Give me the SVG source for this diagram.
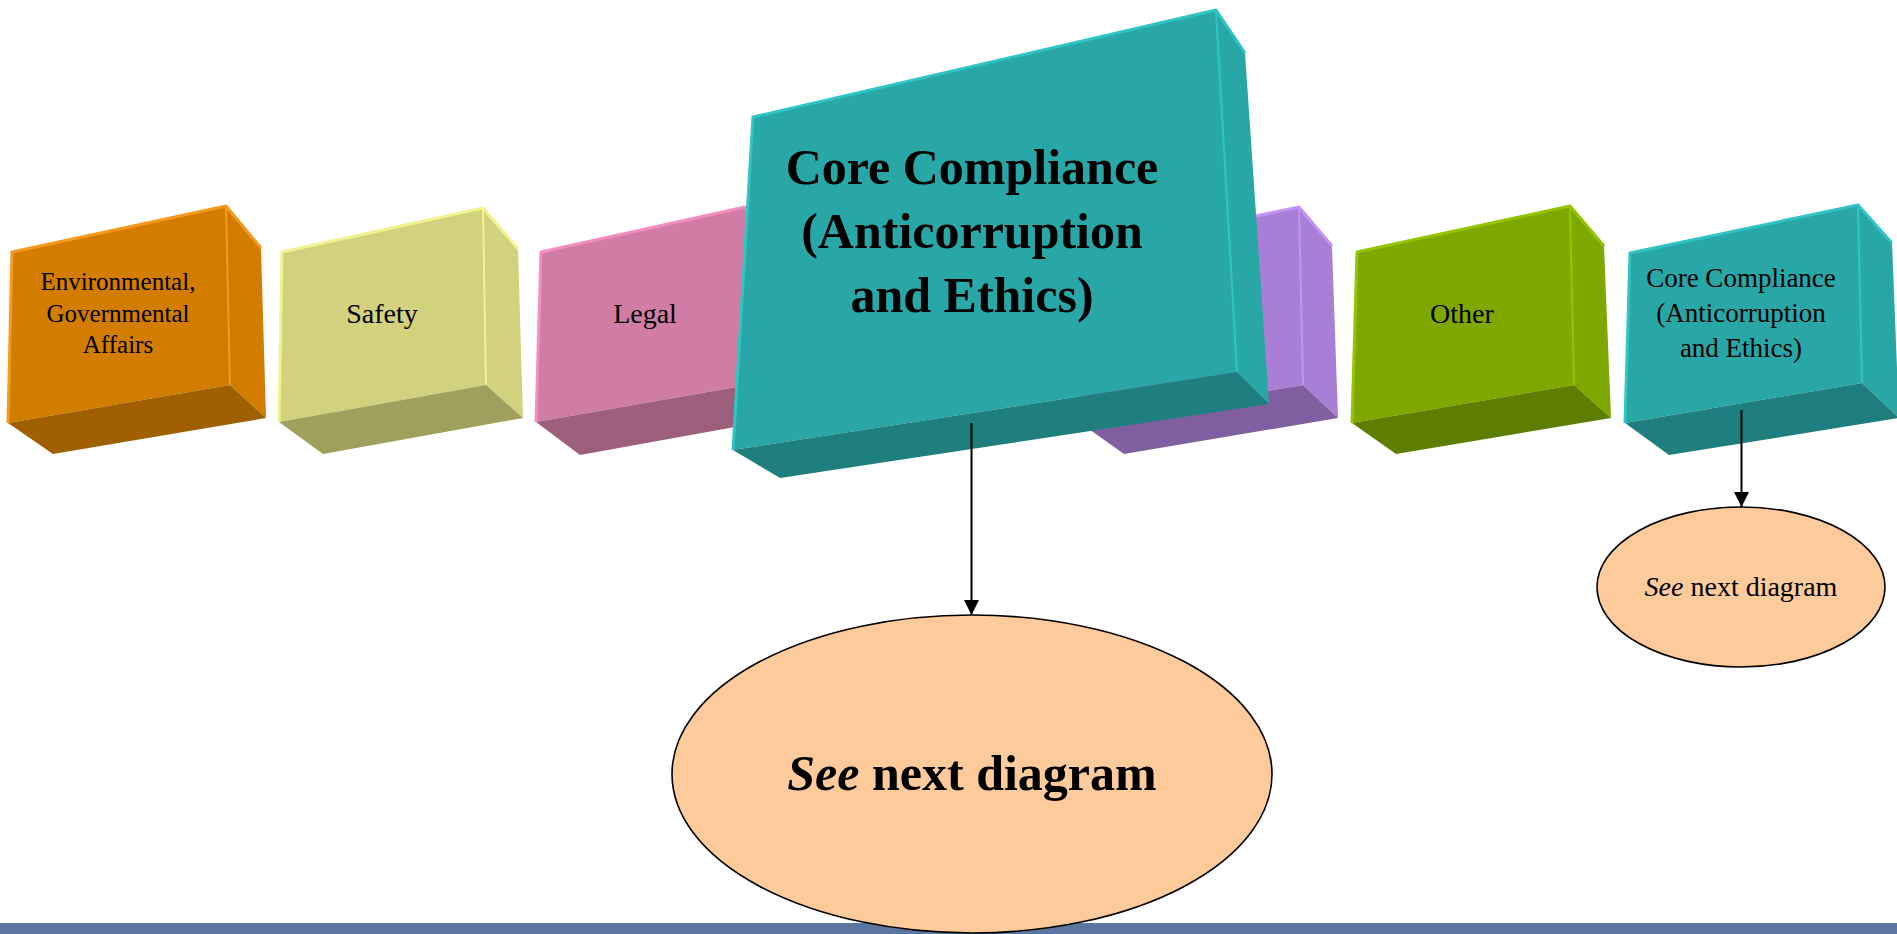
<svg xmlns="http://www.w3.org/2000/svg" width="1897" height="934" viewBox="0 0 1897 934">
<defs>
<style>
.lbl{font-family:"Liberation Serif","Times New Roman",serif;fill:#000;text-anchor:middle}
.hl{fill:none;stroke-width:3;stroke-linejoin:round}
.seam{fill:none;stroke-width:2}
.or .f,.or .r{fill:#d37d00}.or .b{fill:#a06000}.or .hl,.or .seam{stroke:#f59a1f}
.sa .f,.sa .r{fill:#d1d17e}.sa .b{fill:#9f9f5e}.sa .hl,.sa .seam{stroke:#f2f28f}
.le .f,.le .r{fill:#d17ca4}.le .b{fill:#9e5f7c}.le .hl,.le .seam{stroke:#f48dc2}
.pu .f,.pu .r{fill:#a97fd5}.pu .b{fill:#7f5f9f}.pu .hl,.pu .seam{stroke:#c393f5}
.te .f,.te .r{fill:#29a7a7}.te .b{fill:#1f7e7e}.te .hl,.te .seam{stroke:#31c4c4}
.gr .f,.gr .r{fill:#7ea800}.gr .b{fill:#5e7e00}.gr .hl,.gr .seam{stroke:#93c500}
.ell{fill:#fdca9b;stroke:#000;stroke-width:1.6}
.conn{stroke:#000;stroke-width:2;fill:none}
</style>
<marker id="arr" viewBox="0 0 15 15" refX="15" refY="7.5" markerWidth="15" markerHeight="15" markerUnits="userSpaceOnUse" orient="auto">
<path d="M0,0 L15,7.5 L0,15 z" fill="#000"/>
</marker>
</defs>
<rect width="1897" height="934" fill="#fff"/>
<rect id="bar" x="0" y="923" width="1897" height="11" fill="#5b779f"/>

<g id="env" class="or">
<polygon class="r" points="226,206 261,248 266,418 230,385"/>
<polygon class="f" points="12,252 226,206 230,385 8,423"/>
<polygon class="b" points="8,423 230,385 266,418 53,454"/>
<polyline class="hl" points="8,423 12,252 226,206 261,248"/>
<line class="seam" x1="226" y1="207" x2="230" y2="385"/>
<text class="lbl" x="118" y="290" font-size="25">Environmental,</text>
<text class="lbl" x="118" y="322" font-size="25">Governmental</text>
<text class="lbl" x="118" y="353" font-size="25">Affairs</text>
</g>

<g id="safety" class="sa">
<polygon class="r" points="483,208 518,249 523,418 486,385"/>
<polygon class="f" points="282,252 483,208 486,385 279,422"/>
<polygon class="b" points="279,422 486,385 523,418 323,454"/>
<polyline class="hl" points="279,422 282,252 483,208 518,249"/>
<line class="seam" x1="483" y1="209" x2="486" y2="385"/>
<text class="lbl" x="382" y="323" font-size="28">Safety</text>
</g>

<g id="legal" class="le">
<polygon class="r" points="745,207 780,249 785,418 748,385"/>
<polygon class="f" points="541,252 745,207 748,385 536,422"/>
<polygon class="b" points="536,422 748,385 785,418 580,455"/>
<polyline class="hl" points="536,422 541,252 745,207 780,249"/>
<text class="lbl" x="645" y="323" font-size="28">Legal</text>
</g>

<g id="hidden" class="pu">
<polygon class="r" points="1299,207 1332,246 1338,418 1303,385"/>
<polygon class="f" points="1083,252 1299,207 1303,385 1079,422"/>
<polygon class="b" points="1079,422 1303,385 1338,418 1124,454"/>
<polyline class="hl" points="1079,422 1083,252 1299,207 1332,246"/>
<line class="seam" x1="1299" y1="208" x2="1303" y2="385"/>
</g>

<g id="core-main" class="te">
<polygon class="r" points="1216,10 1245,53 1269,404 1237,372"/>
<polygon class="f" points="753,117 1216,10 1237,372 733,450"/>
<polygon class="b" points="733,450 1237,372 1269,404 780,478"/>
<polyline class="hl" points="733,450 753,117 1216,10 1245,53"/>
<line class="seam" x1="1216" y1="11" x2="1237" y2="372"/>
<text class="lbl" x="972" y="184" font-size="50" font-weight="bold">Core Compliance</text>
<text class="lbl" x="972" y="248" font-size="50" font-weight="bold">(Anticorruption</text>
<text class="lbl" x="972" y="312" font-size="50" font-weight="bold">and Ethics)</text>
</g>

<g id="other" class="gr">
<polygon class="r" points="1570,206 1604,246 1611,418 1574,385"/>
<polygon class="f" points="1357,252 1570,206 1574,385 1352,423"/>
<polygon class="b" points="1352,423 1574,385 1611,418 1396,454"/>
<polyline class="hl" points="1352,423 1357,252 1570,206 1604,246"/>
<line class="seam" x1="1570" y1="207" x2="1574" y2="385"/>
<text class="lbl" x="1462" y="323" font-size="28">Other</text>
</g>

<g id="core-small" class="te">
<polygon class="r" points="1858,205 1892,243 1899,418 1862,383"/>
<polygon class="f" points="1630,253 1858,205 1862,383 1625,423"/>
<polygon class="b" points="1625,423 1862,383 1899,418 1669,455"/>
<polyline class="hl" points="1625,423 1630,253 1858,205 1892,243"/>
<line class="seam" x1="1858" y1="206" x2="1862" y2="383"/>
<text class="lbl" x="1741" y="287" font-size="27">Core Compliance</text>
<text class="lbl" x="1741" y="322" font-size="27">(Anticorruption</text>
<text class="lbl" x="1741" y="357" font-size="27">and Ethics)</text>
</g>

<g id="see-main">
<ellipse class="ell" cx="972" cy="774" rx="300" ry="159"/>
<text class="lbl" x="972" y="790" font-size="50" font-weight="bold"><tspan font-style="italic">See</tspan> next diagram</text>
</g>

<g id="see-small">
<ellipse class="ell" cx="1741" cy="587" rx="144" ry="80"/>
<text class="lbl" x="1741" y="596" font-size="28"><tspan font-style="italic">See</tspan> next diagram</text>
</g>

<g id="connectors">
<line class="conn" x1="971.5" y1="423" x2="971.5" y2="615" marker-end="url(#arr)"/>
<line class="conn" x1="1741.5" y1="410" x2="1741.5" y2="507" marker-end="url(#arr)"/>
</g>
</svg>
